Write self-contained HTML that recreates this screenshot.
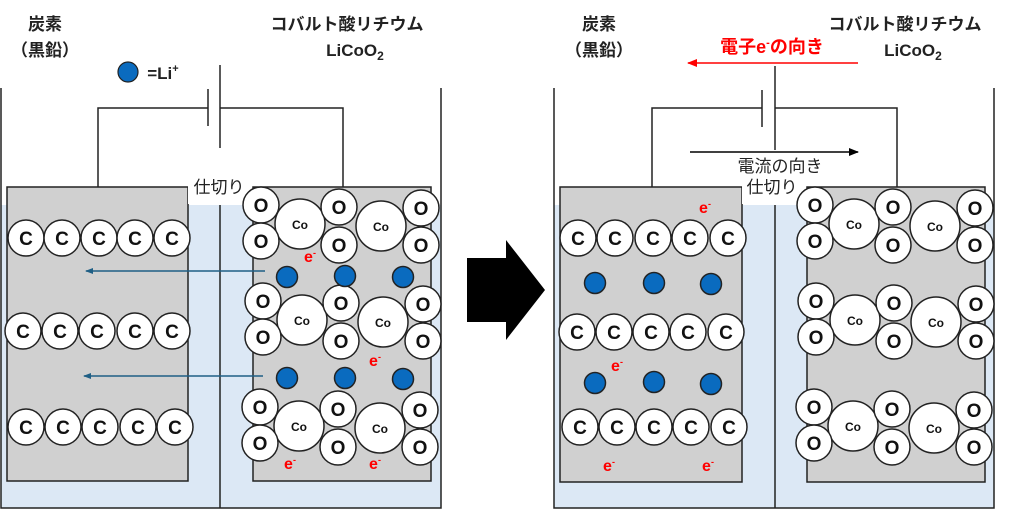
<!DOCTYPE html>
<html><head><meta charset="utf-8"><style>
html,body{margin:0;padding:0;background:#fff;width:1024px;height:510px;overflow:hidden}
text{font-family:"Liberation Sans","Noto Sans CJK JP",sans-serif}
</style></head><body>
<svg width="1024" height="510" viewBox="0 0 1024 510" xmlns="http://www.w3.org/2000/svg">
<defs>
<marker id="ab" markerWidth="8" markerHeight="8" refX="7" refY="4" orient="auto" markerUnits="userSpaceOnUse"><path d="M0,1 L8,4 L0,7 Z" fill="#1f5f85"/></marker>
<marker id="ar" markerWidth="10" markerHeight="8" refX="9" refY="4" orient="auto" markerUnits="userSpaceOnUse"><path d="M0,0 L10,4 L0,8 Z" fill="#ff0000"/></marker>
<marker id="ak" markerWidth="10" markerHeight="8" refX="9" refY="4" orient="auto" markerUnits="userSpaceOnUse"><path d="M0,0 L10,4 L0,8 Z" fill="#000"/></marker>
</defs>
<g stroke="#222" stroke-width="1.5">
<!-- left container -->
<rect x="1" y="205" width="440" height="303" fill="#dce8f5" stroke="none"/>
<polyline points="1,88 1,508 441,508 441,88" fill="none"/>
<line x1="220" y1="205" x2="220" y2="508"/>
<rect x="7" y="187" width="181" height="294" fill="#d0d0d0"/>
<rect x="253" y="187" width="178" height="294" fill="#d0d0d0"/>
<polyline points="98,187 98,108 208,108" fill="none"/>
<polyline points="220,108 343,108 343,187" fill="none"/>
<line x1="208" y1="89" x2="208" y2="126"/>
<line x1="220" y1="65" x2="220" y2="148"/>
<!-- right container -->
<rect x="554" y="205" width="440" height="303" fill="#dce8f5" stroke="none"/>
<polyline points="554,88 554,508 994,508 994,88" fill="none"/>
<line x1="775" y1="205" x2="775" y2="508"/>
<rect x="560" y="187" width="182" height="295" fill="#d0d0d0"/>
<rect x="807" y="187" width="178" height="295" fill="#d0d0d0"/>
<polyline points="652,187 652,108 762,108" fill="none"/>
<polyline points="775,108 897,108 897,187" fill="none"/>
<line x1="762" y1="90" x2="762" y2="127"/>
<line x1="775" y1="66" x2="775" y2="150"/>
</g>
<rect x="188" y="176" width="64" height="28" fill="#fff"/>
<rect x="742" y="176" width="64" height="28" fill="#fff"/>
<!-- big arrow -->
<polygon points="467,258 506,258 506,240 545,290 506,340 506,322 467,322" fill="#000"/>
<!-- arrows -->
<line x1="265" y1="271" x2="86" y2="271" stroke="#1f5f85" stroke-width="1.5" marker-end="url(#ab)"/>
<line x1="263" y1="376" x2="84" y2="376" stroke="#1f5f85" stroke-width="1.5" marker-end="url(#ab)"/>
<line x1="858" y1="63" x2="688" y2="63" stroke="#ff0000" stroke-width="1.5" marker-end="url(#ar)"/>
<line x1="690" y1="152" x2="858" y2="152" stroke="#000" stroke-width="1.5" marker-end="url(#ak)"/>
<g id="atoms" stroke="#222" stroke-width="1.5"></g>
<g font-weight="bold" text-anchor="middle">
<text x="45" y="30" font-size="17" fill="#222">炭素</text>
<text x="45" y="56" font-size="17" fill="#222">（黒鉛）</text>
<text x="347" y="30" font-size="17" fill="#222">コバルト酸リチウム</text>
<text x="355" y="56" font-size="17" fill="#222">LiCoO<tspan font-size="12" dy="4">2</tspan></text>
<text x="599" y="30" font-size="17" fill="#222">炭素</text>
<text x="599" y="56" font-size="17" fill="#222">（黒鉛）</text>
<text x="905" y="30" font-size="17" fill="#222">コバルト酸リチウム</text>
<text x="913" y="56" font-size="17" fill="#222">LiCoO<tspan font-size="12" dy="4">2</tspan></text>
<text x="772" y="53" font-size="18" fill="#ff0000">電子e<tspan font-size="11" dy="-7">-</tspan><tspan dy="7">の向き</tspan></text>
<text x="780" y="172" font-size="17" font-weight="normal" fill="#222">電流の向き</text>
<text x="772" y="193" font-size="17" font-weight="normal" fill="#222">仕切り</text>
<text x="219" y="193" font-size="17" font-weight="normal" fill="#222">仕切り</text>
<text x="163" y="79" font-size="17" fill="#222">=Li<tspan font-size="11" dy="-7">+</tspan></text>
</g>
<circle cx="128" cy="72" r="10" fill="#0a6bbf" stroke="#222" stroke-width="1.2"/>
<g id="txt" font-weight="bold" text-anchor="middle"></g>
<script>
var ns="http://www.w3.org/2000/svg",A=document.getElementById('atoms'),T=document.getElementById('txt');
function c(x,y,r,f){var e=document.createElementNS(ns,'circle');e.setAttribute('cx',x);e.setAttribute('cy',y);e.setAttribute('r',r);e.setAttribute('fill',f);A.appendChild(e);}
function t(x,y,s,fs,col,sup){var e=document.createElementNS(ns,'text');e.setAttribute('x',x);e.setAttribute('y',y);e.setAttribute('font-size',fs);e.setAttribute('fill',col||'#111');e.textContent=s;if(sup){var p=document.createElementNS(ns,'tspan');p.setAttribute('font-size',9);p.setAttribute('dy',-6);p.textContent='-';e.appendChild(p);}T.appendChild(e);}
function C(x,y){c(x,y,18,'#fff');t(x,y+7,'C',19);}
function O(x,y){c(x,y,18,'#fff');t(x,y+7,'O',19);}
function Co(x,y){c(x,y,25,'#fff');t(x,y+5,'Co',12);}
function L(x,y){c(x,y,10.5,'#0a6bbf');}
function E(x,y){t(x,y,'e',16,'#ff0000',1);}
[[26,238],[62,238],[99,238],[135,238],[172,238],[23,331],[60,331],[97,331],[135,331],[172,331],[26,427],[63,427],[100,427],[138,427],[175,427],
[578,238],[615,238],[653,238],[690,238],[728,238],[577,332],[614,332],[651,332],[688,332],[726,332],[580,427],[617,427],[654,427],[691,427],[729,427]].forEach(p=>C(p[0],p[1]));
function grp(ox,oy,dx){Co(300+dx,224+oy);Co(381+dx,226+oy);
[[261,205],[261,241],[339,207],[339,245],[421,208],[421,245]].forEach(p=>O(p[0]+dx,p[1]+oy));}
grp(0,0,0);grp(0,96,2);grp(0,202,-1);
grp(0,0,554);grp(0,96,555);grp(0,202,553);
[[287,277],[345,276],[403,277],[287,378],[345,378],[403,379],[595,283],[654,283],[711,284],[595,383],[654,382],[711,384]].forEach(p=>L(p[0],p[1]));
[[310,262],[375,366],[290,469],[375,469],[705,213],[617,371],[609,471],[708,471]].forEach(p=>E(p[0],p[1]));
</script>
</svg>
</body></html>
